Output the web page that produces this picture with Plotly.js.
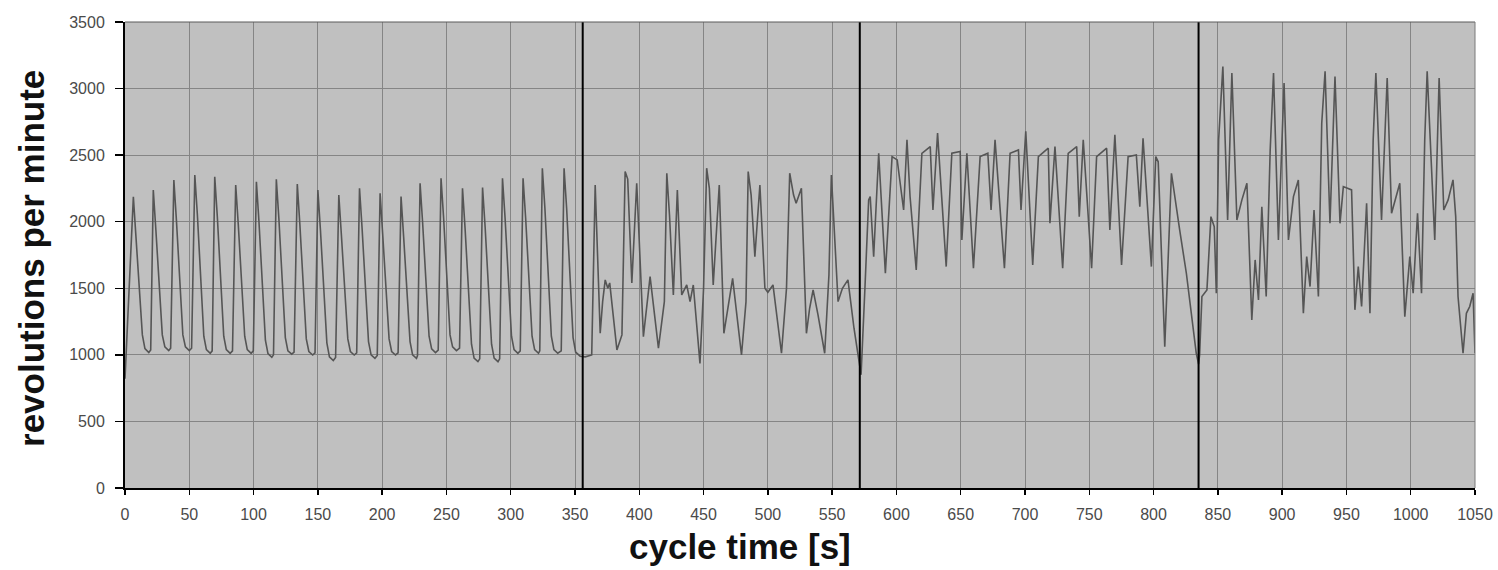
<!DOCTYPE html>
<html>
<head>
<meta charset="utf-8">
<script src="https://cdn.plot.ly/plotly-3.0.1.min.js"></script>
<style>html,body{margin:0;padding:0;background:#fff;}</style>
</head>
<body>
<div id="chart" style="width:1498px;height:570px;"></div>
<script>
// Segment 1 (0 - 356 s)
const t1 = [0, 6.5, 8.5, 13.5, 15.5, 18.5, 20,
  22.0, 24, 29, 31, 34, 35.5,
  38.0, 40, 45, 47, 50, 51.8,
  54.3, 56.3, 61.3, 63.3, 66.3, 67.8,
  69.8, 71.8, 76.8, 78.8, 81.8, 83.6,
  86.1, 88.1, 93.1, 95.1, 98.1, 99.8,
  102.2, 104.2, 109.2, 111.2, 114.2, 115.5,
  117.7, 119.7, 124.7, 126.7, 129.7, 131.5,
  134.0, 136, 141, 143, 146, 147.8,
  150.0, 152, 157, 159, 162, 163.8,
  166.3, 168.3, 173.3, 175.3, 178.3, 180.2,
  182.4, 184.4, 189.4, 191.4, 194.4, 196.2,
  198.4, 200.4, 205.4, 207.4, 210.4, 212.4,
  214.7, 216.7, 221.7, 223.7, 226.7, 227.5,
  229.5, 231.5, 236.5, 238.5, 241.5, 243.6,
  245.8, 247.8, 252.8, 254.8, 257.8, 260.2,
  262.5, 264.5, 269.5, 271.5, 274.5, 275.9,
  278.1, 280.1, 285.1, 287.1, 290.1, 291.4,
  293.6, 295.6, 300.6, 302.6, 305.6, 307.4,
  309.6, 311.6, 316.6, 318.6, 321.6, 322.6,
  324.6, 326.6, 331.6, 333.6, 336.6, 339.3,
  341.5, 343.5, 348.5, 350.5, 354, 358, 362];
const r1 = [820, 2188, 1890, 1150, 1047, 1017, 1037,
  2238, 1940, 1150, 1060, 1032, 1050,
  2313, 2010, 1150, 1060, 1032, 1050,
  2351, 2050, 1140, 1040, 1012, 1030,
  2338, 2040, 1140, 1040, 1012, 1030,
  2276, 1980, 1140, 1040, 1012, 1030,
  2300, 2000, 1110, 1010, 982, 1000,
  2318, 2020, 1130, 1030, 1005, 1020,
  2283, 1980, 1120, 1025, 999, 1015,
  2238, 1940, 1090, 985, 957, 980,
  2200, 1900, 1120, 1025, 999, 1015,
  2251, 1950, 1100, 1000, 974, 995,
  2214, 1910, 1120, 1025, 999, 1015,
  2189, 1890, 1100, 1000, 974, 995,
  2289, 1990, 1140, 1045, 1017, 1035,
  2327, 2030, 1150, 1060, 1032, 1050,
  2251, 1950, 1080, 975, 949, 970,
  2256, 1960, 1080, 975, 949, 970,
  2327, 2030, 1140, 1040, 1012, 1030,
  2327, 2030, 1140, 1040, 1012, 1030,
  2402, 2100, 1140, 1040, 1012, 1030,
  2402, 2100, 1130, 1020, 990, 985, 999];

// Segment 2 (356 - 571.5 s)
const t2 = [363, 365.7, 367.2, 369.6, 371.5, 373.5, 375.5, 377, 382.6, 386.5, 389, 391, 394.2, 398, 400, 403.2,
  408.4, 414.9, 419.5, 421.4, 423.5, 426.5, 429.6, 433, 436.9, 439.5, 442, 447.2, 450, 452.4, 454.5, 457.5,
  462.2, 465.8, 472.6, 479.5, 483, 484.7, 487, 489.9, 493.8, 497.7, 500, 504, 510.6, 514.5, 517, 520,
  522, 526.1, 530, 532.5, 535.2, 539, 544.2, 547.5, 549.4, 551.5, 554.6, 558, 562.3, 567, 571.4];
const r2 = [999, 2276, 1900, 1162, 1400, 1563, 1500, 1540, 1037, 1150, 2377, 2320, 1540, 2289, 1850, 1137,
  1588, 1050, 1400, 2364, 2050, 1450, 2238, 1450, 1525, 1400, 1525, 936, 1500, 2402, 2250, 1525,
  2276, 1162, 1575, 999, 1400, 2377, 2200, 1738, 2276, 1500, 1470, 1525, 1012, 1500, 2364, 2200,
  2138, 2251, 1162, 1350, 1488, 1300, 1012, 1600, 2351, 2000, 1400, 1500, 1563, 1200, 912];

// Segment 3 (571.5 - 835 s)
const t3 = [572.5, 575.5, 578.4, 579.6, 582.3, 586.2, 591.4, 596.6, 600.6, 605.6, 608.2, 610.6, 615.4, 619.8, 626.3, 628.4,
  632, 638.7, 643.1, 649.6, 650.9, 654.8, 659.9, 665.1, 671.1, 673.6, 676.7, 684, 688.4, 694.9, 696.9, 700.6,
  706, 710.4, 718.1, 719.4, 723.3, 729.3, 733.6, 740.2, 742.2, 745.3, 751.8, 755.7, 763.5, 766, 769.9, 775.1,
  780.2, 786.6, 789.3, 791.8, 798.3, 801.7, 803.6, 808.7, 813.9, 820.3, 825.5, 833.2, 835];
const r3 = [850, 1500, 2164, 2189, 1738, 2514, 1613, 2489, 2464, 2088, 2615, 2189, 1638, 2514, 2564, 2088,
  2665, 1663, 2514, 2527, 1863, 2514, 1650, 2489, 2514, 2088, 2615, 1650, 2514, 2539, 2088, 2680,
  1676, 2489, 2552, 1988, 2564, 1650, 2514, 2564, 2038, 2615, 1650, 2489, 2552, 1938, 2652, 1676,
  2489, 2502, 2113, 2627, 1663, 2489, 2450, 1062, 2364, 1938, 1613, 1012, 930];

// Segment 4 (835 - 1050 s)
const t4 = [835.8, 837.6, 841.5, 844.6, 847.2, 848.8, 850.6, 853.9, 857.6, 860.9, 864.8, 868.7, 872.6, 876.4, 879, 881.6,
  884.2, 887.6, 890.7, 893.3, 897.1, 901.5, 904.9, 908.8, 912.6, 916.5, 919.1, 921.7, 924.8, 928.2, 930.8, 933.4,
  937.2, 941.1, 945, 947.6, 954, 956.6, 959.2, 961.8, 965.7, 968.3, 970.8, 972.9, 977.3, 981.7, 985.1, 991.5,
  995.4, 999.3, 1001.9, 1005.3, 1008.4, 1010.9, 1012.8, 1016.2, 1018.7, 1022.1, 1025.7, 1029.1, 1032.9, 1035, 1036.8, 1040.7,
  1043.3, 1045.9, 1048.5, 1050];
const r4 = [1000, 1438, 1488, 2038, 1963, 1463, 2615, 3166, 2013, 3116, 2013, 2164, 2289, 1262, 1713, 1412,
  2113, 1438, 2539, 3116, 1863, 3041, 1863, 2189, 2314, 1312, 1738, 1513, 2088, 1438, 2740, 3129,
  1988, 3091, 1988, 2264, 2239, 1338, 1663, 1363, 2139, 1312, 2615, 3116, 2013, 3079, 2063, 2289,
  1287, 1738, 1463, 2063, 1463, 2615, 3129, 2364, 1863, 3079, 2088, 2164, 2314, 2038, 1438, 1012,
  1312, 1363, 1463, 1012];

// Phase boundaries (s)
const boundaries = [356, 571.5, 835];

// Tick labels
const xTicks = [0, 50, 100, 150, 200, 250, 300, 350, 400, 450, 500, 550, 600, 650, 700, 750, 800, 850, 900, 950, 1000, 1050];
const yTicks = [0, 500, 1000, 1500, 2000, 2500, 3000, 3500];

const xTitle = 'cycle time [s]';
const yTitle = 'revolutions per minute';

const time = t1.concat(t2, t3, t4);
const rpm = r1.concat(r2, r3, r4);

const trace = {
  x: time, y: rpm, type: 'scatter', mode: 'lines',
  line: {color: '#555555', width: 1.6},
  hoverinfo: 'x+y', showlegend: false
};

const tickFont = {family: 'Arial, "Liberation Sans", sans-serif', size: 16, color: '#4a4a4a'};
const titleFont = {family: 'Arial, "Liberation Sans", sans-serif', size: 35, color: '#111'};

const shapes = boundaries.map(b => ({
  type: 'line', xref: 'x', yref: 'paper', x0: b, x1: b, y0: 0, y1: 1,
  line: {color: '#000', width: 2}
}));
shapes.push({type: 'line', xref: 'paper', yref: 'paper', x0: 0, x1: 1, y0: 1, y1: 1, line: {color: '#5a5a5a', width: 1}});
shapes.push({type: 'line', xref: 'paper', yref: 'paper', x0: 1, x1: 1, y0: 0, y1: 1, line: {color: '#7a7a7a', width: 1}});

const layout = {
  width: 1498, height: 570,
  margin: {l: 125, r: 23, t: 22, b: 82},
  paper_bgcolor: '#ffffff',
  plot_bgcolor: '#c0c0c0',
  showlegend: false,
  xaxis: {
    range: [0, 1050], tickmode: 'array', tickvals: xTicks, ticktext: xTicks.map(String),
    showgrid: true, gridcolor: '#858585', gridwidth: 1, zeroline: false,
    showline: true, linecolor: '#000', linewidth: 2,
    ticks: 'outside', ticklen: 5, tickwidth: 1.5, tickcolor: '#000',
    tickfont: tickFont, ticklabelstandoff: 6, fixedrange: true
  },
  yaxis: {
    range: [0, 3500], tickmode: 'array', tickvals: yTicks, ticktext: yTicks.map(String),
    showgrid: true, gridcolor: '#858585', gridwidth: 1, zeroline: false,
    showline: true, linecolor: '#000', linewidth: 2,
    ticks: 'outside', ticklen: 8, tickwidth: 1.5, tickcolor: '#000',
    tickfont: tickFont, ticklabelstandoff: 7, fixedrange: true
  },
  shapes: shapes,
  annotations: [
    {text: '<b>' + yTitle + '</b>', xref: 'paper', yref: 'paper', x: -0.0689, y: 0.4936,
     xanchor: 'center', yanchor: 'middle', textangle: -90, showarrow: false, font: titleFont},
    {text: '<b>' + xTitle + '</b>', xref: 'paper', yref: 'paper', x: 0.4559, y: -0.1245,
     xanchor: 'center', yanchor: 'middle', showarrow: false, font: titleFont}
  ]
};

Plotly.newPlot('chart', [trace], layout, {displayModeBar: false, staticPlot: true});
</script>
</body>
</html>
